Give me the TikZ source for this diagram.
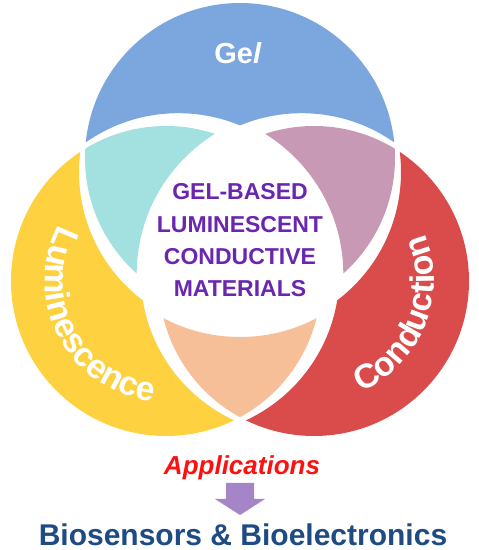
\documentclass[tikz,border=0pt]{standalone}
\usepackage{fontspec}
\setmainfont{Liberation Sans}
\usepackage{tikz}
\usetikzlibrary{decorations.text}
\definecolor{gelblue}{HTML}{7BA7DE}
\definecolor{lumyellow}{HTML}{FDD13F}
\definecolor{conred}{HTML}{DA4B4B}
\definecolor{gelcyan}{HTML}{A2E1DF}
\definecolor{gelmauve}{HTML}{C899B5}
\definecolor{lumpeach}{HTML}{F7BF98}
\definecolor{matpurple}{HTML}{6A26AE}
\definecolor{appred}{HTML}{FF1010}
\definecolor{arrowlilac}{HTML}{A584C8}
\definecolor{appblue}{HTML}{1E4B84}
% clip away a disc (keeps what lies outside it)
\newcommand{\cutaway}[2]{\clip (-10,-10) -- (-10,560) -- (490,560)
  -- (490,-10) -- cycle (#1) circle (#2);}
\tikzset{
  setlab/.style={text=white, font=\bfseries\fontsize{29}{29}\selectfont},
  core/.style={text=matpurple, anchor=base, font=\bfseries\fontsize{23}{23}\selectfont},
  arclab/.style={decorate, decoration={text along path, text color=white,
      text align=center, text={|\bfseries\fontsize{34}{34}\selectfont|#1}}},
}

\begin{document}
\begin{tikzpicture}[x=1pt,y=1pt]
  \useasboundingbox (0,0) rectangle (479,550);
  \def\rad{155}   % set circles
  \def\rcut{161}  % gap round a plain part
  \def\rlens{165} % gap round the core
  \coordinate (gel) at (240,392); % top circle
  \coordinate (lum) at (166,269); % left circle
  \coordinate (con) at (314,269); % right circle
  \coordinate (gel cut) at (240,378);
  \coordinate (lum cut) at (178.3,275.8);
  \coordinate (con cut) at (301.7,275.8);

  % plain parts
  \begin{scope}[even odd rule]
    \cutaway{lum cut}{\rcut} \cutaway{con cut}{\rcut}
    \fill[gelblue] (gel) circle (\rad);
  \end{scope}
  \begin{scope}[even odd rule]
    \cutaway{gel cut}{\rcut} \cutaway{con cut}{\rcut}
    \fill[lumyellow] (lum) circle (\rad);
  \end{scope}
  \begin{scope}[even odd rule]
    \cutaway{gel cut}{\rcut} \cutaway{lum cut}{\rcut}
    \fill[conred] (con) circle (\rad);
  \end{scope}

  % overlaps
  \begin{scope}[even odd rule]
    \clip (gel) circle (\rad); \cutaway{con cut}{\rlens}
    \fill[gelcyan] (lum) circle (\rad);
  \end{scope}
  \begin{scope}[even odd rule]
    \clip (gel) circle (\rad); \cutaway{lum cut}{\rlens}
    \fill[gelmauve] (con) circle (\rad);
  \end{scope}
  \begin{scope}[even odd rule]
    \clip (lum) circle (\rad); \cutaway{gel cut}{\rlens}
    \fill[lumpeach] (con) circle (\rad);
  \end{scope}

  \node[setlab] (gel label) at (238,497) {Ge\textit{l}};
  \path[arclab=Luminescence] (lum) ++(138:121) arc[start angle=138, end angle=278, radius=121];
  \path[arclab=Conduction] (con) ++(-94:120) arc[start angle=-94, end angle=50, radius=120];

  \node[core] (line1) at (240,350) {GEL-BASED};
  \node[core] (line2) at (240,317) {LUMINESCENT};
  \node[core] (line3) at (240,285) {CONDUCTIVE};
  \node[core] (line4) at (240,253) {MATERIALS};

  \node[anchor=base, text=appred, font=\bfseries\itshape\fontsize{26}{26}\selectfont]
    (app) at (242,75) {Applications};
  \coordinate (tip) at (240,35);
  \fill[arrowlilac] (tip) -- ++(25,16) -- ++(-11,0) -- ++(0,16) -- ++(-28,0)
    -- ++(0,-16) -- ++(-11,0) -- cycle;
  \node[anchor=base, text=appblue, inner sep=1pt, font=\bfseries\fontsize{30}{30}\selectfont]
    (bio) at (243,5) {Biosensors \& Bioelectronics};
\end{tikzpicture}
\end{document}
